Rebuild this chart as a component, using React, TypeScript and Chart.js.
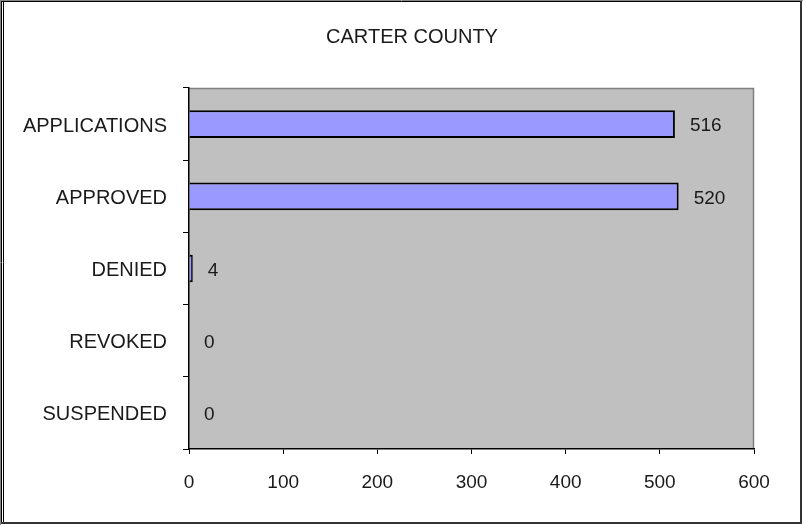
import React, { useEffect, useRef } from "react";
import { Chart, registerables } from "chart.js";

Chart.register(...registerables);

const TITLE = "CARTER COUNTY";
const CATEGORIES = ["APPLICATIONS", "APPROVED", "DENIED", "REVOKED", "SUSPENDED"];
const VALUES = [516, 520, 4, 0, 0];
const X_MIN = 0;
const X_MAX = 600;
const X_STEP = 100;

const FONT_FAMILY = "'Liberation Sans', Arial, sans-serif";
const TEXT_COLOR = "#1a1a1a";

const decorPlugin = {
  id: "decor",
  beforeDraw(chart: any) {
    const { ctx, chartArea } = chart;
    ctx.save();
    ctx.fillStyle = "#ffffff";
    ctx.fillRect(0, 0, chart.width, chart.height);
    ctx.fillStyle = "#c0c0c0";
    ctx.fillRect(chartArea.left, chartArea.top, chartArea.right - chartArea.left, chartArea.bottom - chartArea.top);
    ctx.strokeStyle = "#808080";
    ctx.lineWidth = 1.5;
    ctx.beginPath();
    ctx.moveTo(chartArea.left, chartArea.top + 0.5);
    ctx.lineTo(chartArea.right - 0.5, chartArea.top + 0.5);
    ctx.lineTo(chartArea.right - 0.5, chartArea.bottom);
    ctx.stroke();
    ctx.restore();
  },
  afterDraw(chart: any) {
    const { ctx } = chart;
    const w = chart.width;
    const h = chart.height;
    ctx.save();
    // title
    ctx.fillStyle = TEXT_COLOR;
    ctx.font = `20px ${FONT_FAMILY}`;
    ctx.textAlign = "center";
    ctx.textBaseline = "middle";
    ctx.fillText(TITLE, 412, 37);
    // value labels
    ctx.font = `19px ${FONT_FAMILY}`;
    const meta = chart.getDatasetMeta(0);
    const xScale = chart.scales.x;
    ctx.textAlign = "left";
    meta.data.forEach((bar: any, i: number) => {
      const v = VALUES[i];
      const xEnd = xScale.getPixelForValue(v);
      ctx.fillText(String(v), xEnd + 15, bar.y + 2);
    });
    // outer frame
    ctx.lineWidth = 1;
    ctx.strokeStyle = "#888";
    ctx.beginPath();
    ctx.moveTo(0.5, 0);
    ctx.lineTo(0.5, h);
    ctx.moveTo(0, 0.5);
    ctx.lineTo(w, 0.5);
    ctx.stroke();
    ctx.strokeStyle = "#000";
    ctx.beginPath();
    ctx.moveTo(1.5, 1);
    ctx.lineTo(1.5, 524);
    ctx.moveTo(1, 1.5);
    ctx.lineTo(802, 1.5);
    ctx.moveTo(3.5, 2);
    ctx.lineTo(3.5, 523);
    ctx.stroke();
    ctx.strokeStyle = "#333";
    ctx.lineWidth = 2;
    ctx.beginPath();
    ctx.moveTo(801, 1);
    ctx.lineTo(801, 524);
    ctx.moveTo(1, 523);
    ctx.lineTo(802, 523);
    ctx.stroke();
    ctx.restore();
  },
};

export default function App() {
  const ref = useRef<HTMLCanvasElement>(null);
  useEffect(() => {
    if (!ref.current) return;
    const chart = new Chart(ref.current, {
      type: "bar",
      data: {
        labels: CATEGORIES,
        datasets: [
          {
            data: VALUES,
            backgroundColor: "#9999ff",
            borderColor: "#000000",
            borderWidth: 2,
            borderSkipped: "start",
            barPercentage: 0.383,
            categoryPercentage: 1,
          },
        ],
      },
      options: {
        indexAxis: "y",
        responsive: false,
        animation: false,
        devicePixelRatio: 1,
        layout: { padding: { top: 88, right: 49, left: 0, bottom: 0 } },
        plugins: {
          legend: { display: false },
          title: { display: false },
          tooltip: { enabled: false },
        },
        scales: {
          x: {
            type: "linear",
            min: X_MIN,
            max: X_MAX,
            ticks: {
              stepSize: X_STEP,
              color: TEXT_COLOR,
              font: { family: FONT_FAMILY, size: 19 },
              padding: 17,
            },
            grid: {
              drawOnChartArea: false,
              drawTicks: true,
              tickLength: 5,
              color: "#000",
            },
            border: { display: true, color: "#000", width: 1.5 },
            afterFit(scale: any) {
              scale.height = 76;
            },
          },
          y: {
            type: "category",
            ticks: {
              color: TEXT_COLOR,
              font: { family: FONT_FAMILY, size: 20 },
              padding: 16,
              labelOffset: 2,
            },
            grid: {
              offset: true,
              drawOnChartArea: false,
              drawTicks: true,
              tickLength: 6,
              color: "#000",
            },
            border: { display: true, color: "#000", width: 1.5 },
            afterFit(scale: any) {
              scale.width = 189;
            },
          },
        },
      },
      plugins: [decorPlugin],
    });
    return () => chart.destroy();
  }, []);
  return (
    <div style={{ position: "fixed", left: 0, top: 0, width: 803, height: 525 }}>
      <canvas ref={ref} width={803} height={525} style={{ display: "block" }} />
    </div>
  );
}
